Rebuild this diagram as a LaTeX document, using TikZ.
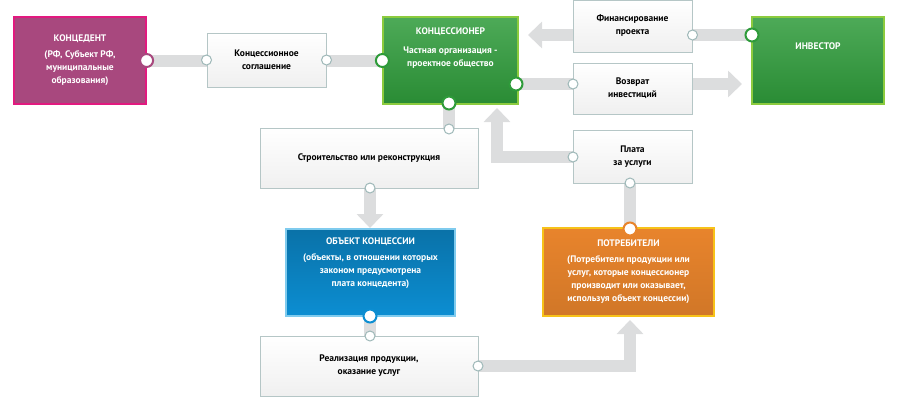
\documentclass[tikz,border=0pt]{standalone}
\usepackage{fontspec}
\setmainfont{PT Sans}
\usetikzlibrary{arrows.meta}
\definecolor{band}{HTML}{DCDDDE}
\definecolor{mag}{HTML}{A8487E}
\definecolor{magb}{HTML}{E2197F}
\definecolor{grn}{HTML}{2E9B3A}
\definecolor{grnb}{HTML}{8CCB3E}
\definecolor{blu}{HTML}{0C8ED2}
\definecolor{blub}{HTML}{7FCBEE}
\definecolor{org}{HTML}{E8842C}
\definecolor{orgb}{HTML}{F7C219}
\definecolor{lbord}{HTML}{B5C6C6}
\definecolor{sring}{HTML}{9EB8B8}
\begin{document}
\begin{tikzpicture}[x=1pt,y=-1pt,
  txt/.style={font=\bfseries\fontsize{9.5}{13}\selectfont,align=center},
  lbox/.style={draw=lbord,line width=1pt,top color=white,bottom color=gray!12,inner sep=0pt,txt,text=black},
  cbox/.style={line width=1.2pt,inner sep=0pt,txt,text=white},
  bandline/.style={draw=band,line width=12pt},
  arr/.style={bandline,-{Triangle[width=26pt,length=14pt]}},
  big/.style={circle,fill=white,line width=2pt,minimum size=13pt,inner sep=0pt},
  small/.style={circle,fill=white,draw=sring,line width=1pt,minimum size=10pt,inner sep=0pt}]
\useasboundingbox (0,0) rectangle (900,402);
% boxes as nodes (positions by corners)
\coordinate (kdA) at (14,17); \coordinate (kdB) at (146,104);
% connectors first
\draw[bandline] (147,61) -- (383,61);
\draw[arr] (752,35) -- (528,35);
\draw[arr] (516,84) -- (742,84);
\draw[bandline] (449,103) -- (449,128);
\draw[arr] (370,188) -- (370,228);
\draw[arr] (573,157) -- (497,157) -- (497,108);
\draw[bandline] (630,229) -- (630,183);
\draw[bandline] (370,316) -- (370,336);
\draw[arr] (478,366) -- (630,366) -- (630,320);
% boxes
\node[cbox,fill=mag,draw=magb,minimum width=132pt,minimum height=87pt] (kd) at (80,60.5)
  {КОНЦЕДЕНТ\\[3pt](РФ, Субъект РФ,\\муниципальные\\образования)};
\node[lbox,minimum width=119pt,minimum height=54pt] (ks) at (266.5,60) {Концессионное\\соглашение};
\node[cbox,top color=grn!85!white,bottom color=grn!90!black,draw=grnb,minimum width=135pt,minimum height=87pt] (kr) at (450.5,60.5)
  {\raisebox{0pt}{КОНЦЕССИОНЕР}\\[6pt]Частная организация -\\проектное общество\\[14pt]};
\node[cbox,top color=grn!85!white,bottom color=grn!90!black,draw=grnb,minimum width=132pt,minimum height=87pt] (inv) at (818,60.5) {ИНВЕСТОР\\[16pt]};
\node[lbox,minimum width=119pt,minimum height=52pt] (fin) at (632.5,26) {Финансирование\\проекта};
\node[lbox,minimum width=119pt,minimum height=51pt] (voz) at (632.5,88.5) {Возврат\\инвестиций};
\node[lbox,minimum width=218pt,minimum height=60pt] (str) at (369,158) {Строительство или реконструкция};
\node[lbox,minimum width=119pt,minimum height=53pt] (pl) at (632.5,156.5) {Плата\\за услуги};
\node[cbox,top color=blu!80!black,bottom color=blu,draw=blub,minimum width=169pt,minimum height=87pt] (ob) at (370.5,272.5)
  {ОБЪЕКТ КОНЦЕССИИ\\[3pt](объекты, в отношении которых\\законом предусмотрена\\плата концедента)\\[8pt]};
\node[cbox,top color=org,bottom color=org!90!black,draw=orgb,minimum width=171pt,minimum height=88pt] (po) at (628.5,272)
  {ПОТРЕБИТЕЛИ\\[3pt](Потребители продукции или\\услуг, которые концессионер\\производит или оказывает,\\используя объект концессии)};
\node[lbox,minimum width=218pt,minimum height=60pt] (re) at (369,366) {Реализация продукции,\\оказание услуг};
% circles
\node[big,draw=mag] (c1) at (kd.east) {};
\node[small] (c2) at (ks.west) {};
\node[small] (c3) at (ks.east) {};
\node[big,draw=grn] (c4) at (kr.west) {};
\node[big,draw=grn] (c5) at (516,84) {};
\node[big,draw=grn] (c6) at (449,103) {};
\node[small] (c7) at (449,129) {};
\node[small] (c8) at (370,188) {};
\node[small] (c9) at (fin.east|-0,35) {};
\node[big,draw=grn] (c10) at (752,35) {};
\node[small] (c11) at (573,84) {};
\node[small] (c12) at (573,157) {};
\node[small] (c13) at (630,183) {};
\node[big,draw=org] (c14) at (630,229) {};
\node[big,draw=blu] (c15) at (370,316) {};
\node[small] (c16) at (370,336) {};
\node[small] (c17) at (478,366) {};
\end{tikzpicture}
\end{document}
